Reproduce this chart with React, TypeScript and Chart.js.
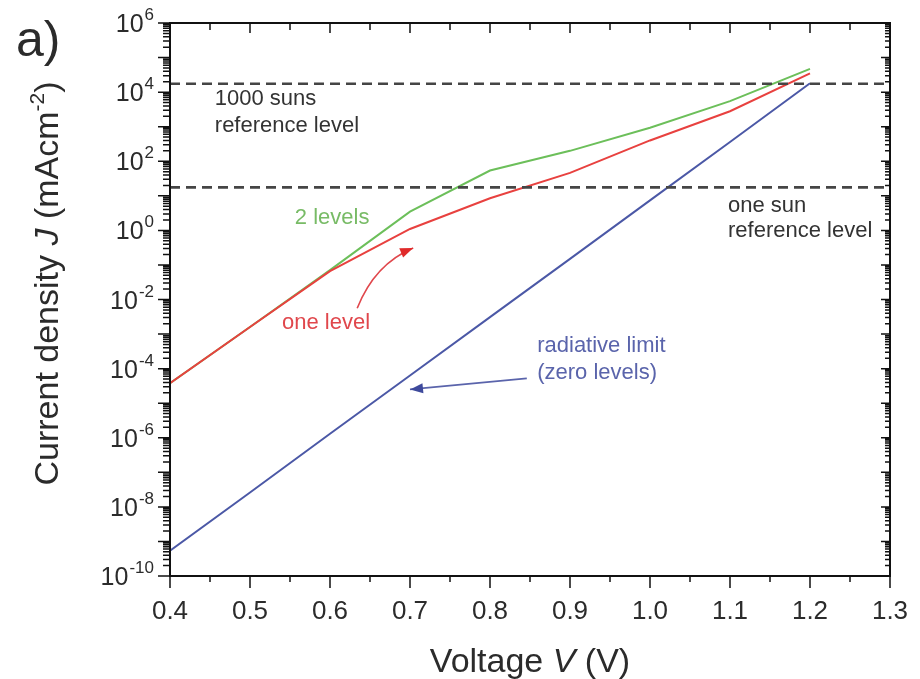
import React, { useEffect, useRef } from 'react';
import { Chart, registerables } from 'chart.js';

Chart.register(...registerables);

// ---- data ----
const voltage = [0.4, 0.5, 0.6, 0.7, 0.8, 0.9, 1.0, 1.1, 1.2];
const radiativeLimit = [5.4e-10, 2.6e-8, 1.3e-6, 6.3e-5, 3.1e-3, 0.15, 7.4, 360, 1.8e4];
const oneLevel = [3.8e-5, 1.6e-3, 0.066, 1.1, 8.5, 46, 400, 2800, 3.5e4];
const twoLevels = [3.8e-5, 1.6e-3, 0.071, 3.5, 54, 200, 930, 5500, 4.7e4];

const referenceV = [0.4, 1.3];
const oneSunJ = 17.5;
const thousandSunsJ = 17500;

const xTickValues = [0.4, 0.5, 0.6, 0.7, 0.8, 0.9, 1.0, 1.1, 1.2, 1.3];
const yDecades = [-10, -9, -8, -7, -6, -5, -4, -3, -2, -1, 0, 1, 2, 3, 4, 5, 6];
const yLabelExponents = [-10, -8, -6, -4, -2, 0, 2, 4, 6];

// annotation texts (positions in data units)
const noteTexts = ['1000 suns', 'reference level', 'one sun', 'reference level', '2 levels', 'one level', 'radiative limit', '(zero levels)'];
const noteV = [0.456, 0.456, 1.0975, 1.0975, 0.556, 0.54, 0.859, 0.859];
const noteJ = [6500, 1070, 5.1, 0.95, 2.3, 2.1e-3, 4.5e-4, 7.4e-5];
const noteKind = ['ref', 'ref', 'ref', 'ref', 'two', 'one', 'rad', 'rad'];

// arrows: [start, control, tip] in data units
const oneLevelArrowV = [0.634, 0.656, 0.704];
const oneLevelArrowJ = [5.6e-3, 0.107, 0.31];
const radiativeArrowV = [0.846, 0.77, 0.7];
const radiativeArrowJ = [5.2e-5, 3.6e-5, 2.5e-5];

const FONT = '"Liberation Sans", Arial, Helvetica, sans-serif';
const TEXT = '#2b2b2b';
const GREEN = '#6cbf5a';
const RED = '#e8413f';
const BLUE = '#4b58a6';
const colorOf: Record<string, string> = { ref: '#333333', two: '#78bb66', one: '#e0474c', rad: '#5a64ab' };

type Part = { t: string; italic?: boolean; sup?: boolean };

function drawRich(ctx: CanvasRenderingContext2D, parts: Part[], x: number, y: number, size: number, align: 'center' | 'left' | 'right') {
  const supSize = Math.round(size * 0.62);
  const fontFor = (p: Part) => `${p.italic ? 'italic ' : ''}${p.sup ? supSize : size}px ${FONT}`;
  let total = 0;
  const widths = parts.map((p) => {
    ctx.font = fontFor(p);
    const w = ctx.measureText(p.t).width;
    total += w;
    return w;
  });
  let cx = align === 'center' ? x - total / 2 : align === 'right' ? x - total : x;
  ctx.textAlign = 'left';
  ctx.textBaseline = 'alphabetic';
  parts.forEach((p, i) => {
    ctx.font = fontFor(p);
    ctx.fillText(p.t, cx, p.sup ? y - size * 0.42 : y);
    cx += widths[i];
  });
}

function arrowHead(ctx: CanvasRenderingContext2D, fx: number, fy: number, tx: number, ty: number, len: number, half: number) {
  const ang = Math.atan2(ty - fy, tx - fx);
  ctx.beginPath();
  ctx.moveTo(tx, ty);
  ctx.lineTo(tx - len * Math.cos(ang) + half * Math.sin(ang), ty - len * Math.sin(ang) - half * Math.cos(ang));
  ctx.lineTo(tx - len * Math.cos(ang) - half * Math.sin(ang), ty - len * Math.sin(ang) + half * Math.cos(ang));
  ctx.closePath();
  ctx.fill();
}

const framePlugin = {
  id: 'framePlugin',
  afterDraw(chart: any) {
    const { ctx, chartArea: a, scales } = chart;
    const xs = scales.x;
    const ys = scales.y;
    ctx.save();

    // frame
    ctx.strokeStyle = '#111';
    ctx.lineWidth = 2;
    ctx.strokeRect(a.left, a.top, a.right - a.left, a.bottom - a.top);

    // y ticks (left outward, right inward)
    ctx.lineWidth = 1.5;
    ctx.beginPath();
    yDecades.forEach((d) => {
      const py = ys.getPixelForValue(Math.pow(10, d));
      ctx.moveTo(a.left - 12, py);
      ctx.lineTo(a.left, py);
      ctx.moveTo(a.right, py);
      ctx.lineTo(a.right - 9, py);
      if (d < 6) {
        for (let k = 2; k <= 9; k++) {
          const pm = ys.getPixelForValue(k * Math.pow(10, d));
          ctx.moveTo(a.left - 7, pm);
          ctx.lineTo(a.left, pm);
          ctx.moveTo(a.right, pm);
          ctx.lineTo(a.right - 5, pm);
        }
      }
    });
    // x ticks (bottom outward, top inward)
    xTickValues.forEach((v, i) => {
      const px = xs.getPixelForValue(v);
      ctx.moveTo(px, a.bottom);
      ctx.lineTo(px, a.bottom + 12);
      ctx.moveTo(px, a.top);
      ctx.lineTo(px, a.top + 10);
      if (i < xTickValues.length - 1) {
        const pm = xs.getPixelForValue(v + 0.05);
        ctx.moveTo(pm, a.bottom);
        ctx.lineTo(pm, a.bottom + 6);
        ctx.moveTo(pm, a.top);
        ctx.lineTo(pm, a.top + 7);
      }
    });
    ctx.stroke();

    ctx.fillStyle = TEXT;
    // y tick labels
    yLabelExponents.forEach((e) => {
      const py = ys.getPixelForValue(Math.pow(10, e));
      const supTxt = String(e);
      ctx.font = `17px ${FONT}`;
      const sw = ctx.measureText(supTxt).width;
      ctx.textBaseline = 'alphabetic';
      const baseRight = a.left - 17 - sw;
      ctx.textAlign = 'right';
      ctx.font = `25px ${FONT}`;
      ctx.fillText('10', baseRight, py + 9);
      ctx.font = `17px ${FONT}`;
      ctx.textAlign = 'left';
      ctx.fillText(supTxt, baseRight + 1, py - 3);
    });

    // x tick labels
    ctx.font = `26px ${FONT}`;
    ctx.textAlign = 'center';
    ctx.textBaseline = 'alphabetic';
    xTickValues.forEach((v) => {
      ctx.fillText(v.toFixed(1), xs.getPixelForValue(v), a.bottom + 43);
    });

    // axis titles
    drawRich(ctx, [{ t: 'Voltage ' }, { t: 'V', italic: true }, { t: ' (V)' }], (a.left + a.right) / 2, a.bottom + 96, 34, 'center');
    ctx.save();
    ctx.translate(58, (a.top + a.bottom) / 2 - 16);
    ctx.rotate(-Math.PI / 2);
    drawRich(ctx, [{ t: 'Current density ' }, { t: 'J', italic: true }, { t: ' (mAcm' }, { t: '-2', sup: true }, { t: ')' }], 0, 0, 34, 'center');
    ctx.restore();

    // panel label
    ctx.font = `50px ${FONT}`;
    ctx.textAlign = 'left';
    ctx.textBaseline = 'alphabetic';
    ctx.fillText('a)', 16, 56);

    // annotations
    ctx.font = `22px ${FONT}`;
    ctx.textBaseline = 'middle';
    ctx.textAlign = 'left';
    noteTexts.forEach((t, i) => {
      ctx.fillStyle = colorOf[noteKind[i]];
      ctx.fillText(t, xs.getPixelForValue(noteV[i]), ys.getPixelForValue(noteJ[i]));
    });

    // one-level arrow (curved)
    const rp = oneLevelArrowV.map((v, i) => [xs.getPixelForValue(v), ys.getPixelForValue(oneLevelArrowJ[i])]);
    ctx.strokeStyle = '#e0474c';
    ctx.fillStyle = '#e02a2a';
    ctx.lineWidth = 1.6;
    ctx.beginPath();
    ctx.moveTo(rp[0][0], rp[0][1]);
    ctx.quadraticCurveTo(rp[1][0], rp[1][1], rp[2][0], rp[2][1]);
    ctx.stroke();
    arrowHead(ctx, rp[1][0], rp[1][1], rp[2][0], rp[2][1], 13, 5);

    // radiative arrow
    const bp = radiativeArrowV.map((v, i) => [xs.getPixelForValue(v), ys.getPixelForValue(radiativeArrowJ[i])]);
    ctx.strokeStyle = '#5a64ab';
    ctx.fillStyle = '#3e4a9c';
    ctx.lineWidth = 1.8;
    ctx.beginPath();
    ctx.moveTo(bp[0][0], bp[0][1]);
    ctx.quadraticCurveTo(bp[1][0], bp[1][1], bp[2][0], bp[2][1]);
    ctx.stroke();
    arrowHead(ctx, bp[1][0], bp[1][1], bp[2][0], bp[2][1], 13, 5);

    ctx.restore();
  },
};

export default function App() {
  const ref = useRef<HTMLCanvasElement | null>(null);

  useEffect(() => {
    if (!ref.current) return;
    const series = (ys: number[]) => voltage.map((v, i) => ({ x: v, y: ys[i] }));
    const refLine = (j: number) => referenceV.map((v) => ({ x: v, y: j }));
    const chart = new Chart(ref.current, {
      type: 'line',
      data: {
        datasets: [
          { label: 'one sun', data: refLine(oneSunJ), borderColor: '#454545', borderWidth: 2.6, borderDash: [10, 6], pointRadius: 0 },
          { label: '1000 suns', data: refLine(thousandSunsJ), borderColor: '#454545', borderWidth: 2.6, borderDash: [10, 6], pointRadius: 0 },
          { label: 'one level', data: series(oneLevel), borderColor: RED, borderWidth: 2, pointRadius: 0, tension: 0 },
          { label: '2 levels', data: series(twoLevels), borderColor: GREEN, borderWidth: 2, pointRadius: 0, tension: 0 },
          { label: 'radiative limit', data: series(radiativeLimit), borderColor: BLUE, borderWidth: 2, pointRadius: 0, tension: 0 },
        ],
      },
      options: {
        responsive: false,
        animation: false,
        events: [],
        layout: { padding: { top: 23, right: 30, bottom: 0, left: 0 } },
        plugins: { legend: { display: false }, tooltip: { enabled: false } },
        scales: {
          x: {
            type: 'linear',
            min: 0.4,
            max: 1.3,
            ticks: { display: false },
            grid: { display: false },
            border: { display: false },
            afterFit: (s: any) => {
              s.height = 103;
            },
          },
          y: {
            type: 'logarithmic',
            min: 1e-10,
            max: 1e6,
            ticks: { display: false },
            grid: { display: false },
            border: { display: false },
            afterFit: (s: any) => {
              s.width = 170;
            },
          },
        },
      },
      plugins: [framePlugin],
    });
    return () => chart.destroy();
  }, []);

  return (
    <div style={{ position: 'fixed', left: 0, top: 0, width: 920, height: 679, background: '#fff' }}>
      <canvas ref={ref} width={920} height={679} style={{ width: 920, height: 679, display: 'block' }} />
    </div>
  );
}
